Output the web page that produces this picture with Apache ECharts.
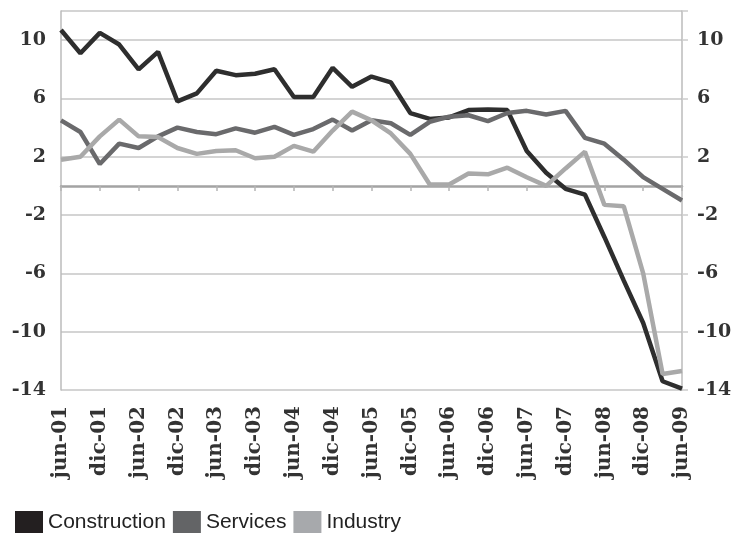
<!DOCTYPE html>
<html>
<head>
<meta charset="utf-8">
<title>Construction, Services, Industry</title>
<script src="https://cdn.jsdelivr.net/npm/echarts@6/dist/echarts.min.js"></script>
<style>
  html, body { margin: 0; padding: 0; background: #fff; }
  #chart { width: 737px; height: 534px; }
</style>
</head>
<body>
<div id="chart"></div>
<script>
// quarterly, jun-01 .. jun-09
var quarters = [
  'jun-01', 'sep-01', 'dic-01', 'mar-02', 'jun-02', 'sep-02', 'dic-02', 'mar-03',
  'jun-03', 'sep-03', 'dic-03', 'mar-04', 'jun-04', 'sep-04', 'dic-04', 'mar-05',
  'jun-05', 'sep-05', 'dic-05', 'mar-06', 'jun-06', 'sep-06', 'dic-06', 'mar-07',
  'jun-07', 'sep-07', 'dic-07', 'mar-08', 'jun-08', 'sep-08', 'dic-08', 'mar-09',
  'jun-09'
];
var construction = [
  10.7, 9.1, 10.5, 9.7, 8.0, 9.2, 5.8, 6.35, 7.9, 7.6, 7.7, 8.0,
  6.1, 6.1, 8.1, 6.8, 7.5, 7.1, 5.0, 4.6, 4.7, 5.2, 5.25, 5.2,
  2.4, 0.9, -0.2, -0.6, -3.5, -6.5, -9.4, -13.4, -13.9
];
var services = [
  4.5, 3.7, 1.5, 2.9, 2.6, 3.4, 4.0, 3.7, 3.55, 3.95, 3.65, 4.05,
  3.5, 3.9, 4.55, 3.8, 4.5, 4.3, 3.5, 4.4, 4.75, 4.85, 4.45, 5.0,
  5.15, 4.9, 5.15, 3.3, 2.9, 1.8, 0.6, -0.2, -1.0
];
var industry = [
  1.8, 2.0, 3.4, 4.55, 3.4, 3.35, 2.6, 2.2, 2.4, 2.45, 1.9, 2.0,
  2.75, 2.35, 3.8, 5.1, 4.5, 3.6, 2.2, 0.1, 0.1, 0.85, 0.8, 1.25,
  0.6, 0.0, 1.2, 2.35, -1.3, -1.4, -6.0, -12.9, -12.7
];

var chart = echarts.init(document.getElementById('chart'));

var serifLabel = {
  fontFamily: 'DejaVu Serif',
  fontWeight: 'bold',
  fontSize: 19,
  color: '#333'
};

function valueAxis(pos) {
  return {
    type: 'value',
    position: pos,
    min: -14,
    max: 12,
    interval: 4,
    axisLine: { show: true, lineStyle: { color: '#bbb', width: 1.5 } },
    axisTick: { show: pos === 'right', length: 6, lineStyle: { color: '#ccc', width: 1.5 } },
    splitLine: { show: pos === 'left', lineStyle: { color: '#d4d4d4', width: 2 } },
    axisLabel: Object.assign({
      margin: 15,
      formatter: function (v) { return v === 12 ? '' : String(v); }
    }, serifLabel)
  };
}

function line(name, data, color, width) {
  return {
    name: name,
    type: 'line',
    data: data,
    symbol: 'none',
    xAxisIndex: 0,
    yAxisIndex: 0,
    lineStyle: { color: color, width: width },
    itemStyle: { color: color },
    z: 3
  };
}

chart.setOption({
  animation: false,
  backgroundColor: '#fff',
  grid: { left: 61, right: 55, top: 11, bottom: 144 },
  legend: {
    left: 10,
    top: 506,
    itemWidth: 28,
    itemHeight: 22,
    itemGap: 7,
    icon: 'rect',
    textStyle: { fontFamily: 'Liberation Sans', fontSize: 21, color: '#222' },
    data: [
      { name: 'Construction', itemStyle: { color: '#231f20' } },
      { name: 'Services', itemStyle: { color: '#636466' } },
      { name: 'Industry', itemStyle: { color: '#a7a9ac' } }
    ]
  },
  xAxis: [
    {
      type: 'category',
      data: quarters,
      boundaryGap: false,
      axisLine: { onZero: true, lineStyle: { color: '#a3a3a3', width: 2.5 } },
      axisTick: { show: true, interval: 1, length: 5, lineStyle: { color: '#b5b5b5', width: 1.5 } },
      axisLabel: { show: false },
      splitLine: { show: false }
    },
    {
      type: 'category',
      data: quarters,
      boundaryGap: false,
      position: 'bottom',
      axisLine: { show: false, onZero: false },
      axisTick: { show: false },
      axisLabel: {
        interval: 1, rotate: 90, margin: 16, fontSize: 20,
        fontFamily: 'DejaVu Serif', fontWeight: 'bold', color: '#333'
      },
      splitLine: { show: false }
    }
  ],
  yAxis: [valueAxis('left'), valueAxis('right')],
  series: [
    line('Construction', construction, '#2e2e2e', 4.5),
    line('Services', services, '#6a6a6c', 4.5),
    line('Industry', industry, '#a9a9a9', 4.5)
  ]
});
</script>
</body>
</html>
